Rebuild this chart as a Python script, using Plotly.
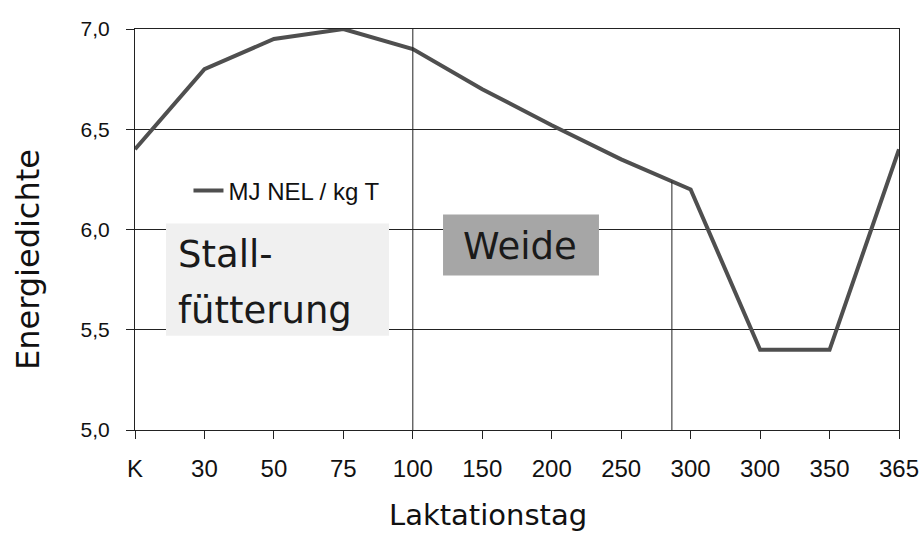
import numpy as np
import plotly.graph_objects as go

# ---- data ----
day_labels = ["K", "30", "50", "75", "100", "150", "200", "250", "300", "300", "350", "365"]
energy = [6.4, 6.8, 6.95, 7.0, 6.9, 6.7, 6.52, 6.35, 6.2, 5.4, 5.4, 6.4]
series_name = "MJ NEL / kg T"
y_ticks = [5.0, 5.5, 6.0, 6.5, 7.0]
y_tick_labels = ["5,0", "5,5", "6,0", "6,5", "7,0"]
# phase dividers (category index positions)
divider_full = 4.0
divider_partial = 7.73

x_idx = list(range(len(day_labels)))

fig = go.Figure()
fig.add_trace(go.Scatter(
    x=x_idx, y=energy, mode="lines", name=series_name,
    line=dict(color="#4f4f4f", width=4),
    showlegend=True,
))

shapes = []
shapes.append(dict(type="line", xref="x", yref="y", x0=divider_full, x1=divider_full,
                   y0=5.0, y1=7.0, line=dict(color="#222222", width=1)))
top_partial = float(np.interp(divider_partial, x_idx, energy))
shapes.append(dict(type="line", xref="x", yref="y", x0=divider_partial, x1=divider_partial,
                   y0=5.0, y1=top_partial, line=dict(color="#222222", width=1)))
shapes.append(dict(type="rect", xref="x", yref="y", x0=0.446, x1=3.657, y0=5.47, y1=6.03,
                   fillcolor="#f0f0f0", line=dict(width=0), layer="between"))
shapes.append(dict(type="rect", xref="x", yref="y", x0=4.435, x1=6.68, y0=5.77, y1=6.075,
                   fillcolor="#a6a6a6", line=dict(width=0), layer="between"))

big_font = dict(family="DejaVu Sans", size=37, color="#1a1a1a")
annotations = [
    dict(text="Stall-", x=0.634, y=5.875, xref="x", yref="y", xanchor="left", yanchor="middle",
         xshift=-3, showarrow=False, font=big_font),
    dict(text="fütterung", x=0.634, y=5.595, xref="x", yref="y", xanchor="left", yanchor="middle",
         xshift=-3, showarrow=False, font=big_font),
    dict(text="Weide", x=5.49, y=5.915, xref="x", yref="y", xanchor="center", yanchor="middle",
         xshift=4, showarrow=False, font=big_font),
    dict(text="Laktationstag", x=5.08, y=-0.212, xref="x", yref="paper", xanchor="center",
         yanchor="middle", showarrow=False,
         font=dict(family="DejaVu Sans", size=29, color="#111111")),
    dict(text="Energiedichte", x=-0.14, y=0.424, xref="paper", yref="paper", xanchor="center",
         yanchor="middle", textangle=-90, showarrow=False,
         font=dict(family="DejaVu Sans", size=32, color="#111111")),
]

fig.update_layout(
    width=923, height=533,
    margin=dict(l=135, r=24, t=29, b=103, autoexpand=False),
    paper_bgcolor="white", plot_bgcolor="white",
    shapes=shapes, annotations=annotations,
    legend=dict(x=0.070, y=0.596, xanchor="left", yanchor="middle",
                bgcolor="rgba(0,0,0,0)",
                font=dict(family="Liberation Sans", size=24, color="#111111")),
)
fig.update_xaxes(
    range=[0, 11], tickmode="array", tickvals=x_idx, ticktext=day_labels,
    showgrid=False, zeroline=False, showline=True, mirror=True, automargin=False,
    linecolor="#222222", linewidth=1,
    ticks="outside", ticklen=8, tickcolor="#222222", ticklabelstandoff=9,
    tickfont=dict(family="Liberation Sans", size=24, color="#111111"),
)
fig.update_yaxes(
    range=[5.0, 7.0], tickmode="array", tickvals=y_ticks, ticktext=y_tick_labels,
    showgrid=True, gridcolor="#222222", gridwidth=1, zeroline=False, automargin=False,
    showline=True, mirror=True, linecolor="#222222", linewidth=1,
    ticks="outside", ticklen=8, tickcolor="#222222", ticklabelstandoff=12,
    tickfont=dict(family="Liberation Sans", size=21, color="#111111"),
)

# remove the default page margin so the 923x533 figure fills the window exactly
fig.write_html("out.html", config={"displayModeBar": False},
               post_script="document.body.style.margin='0';document.body.style.overflow='hidden';")
